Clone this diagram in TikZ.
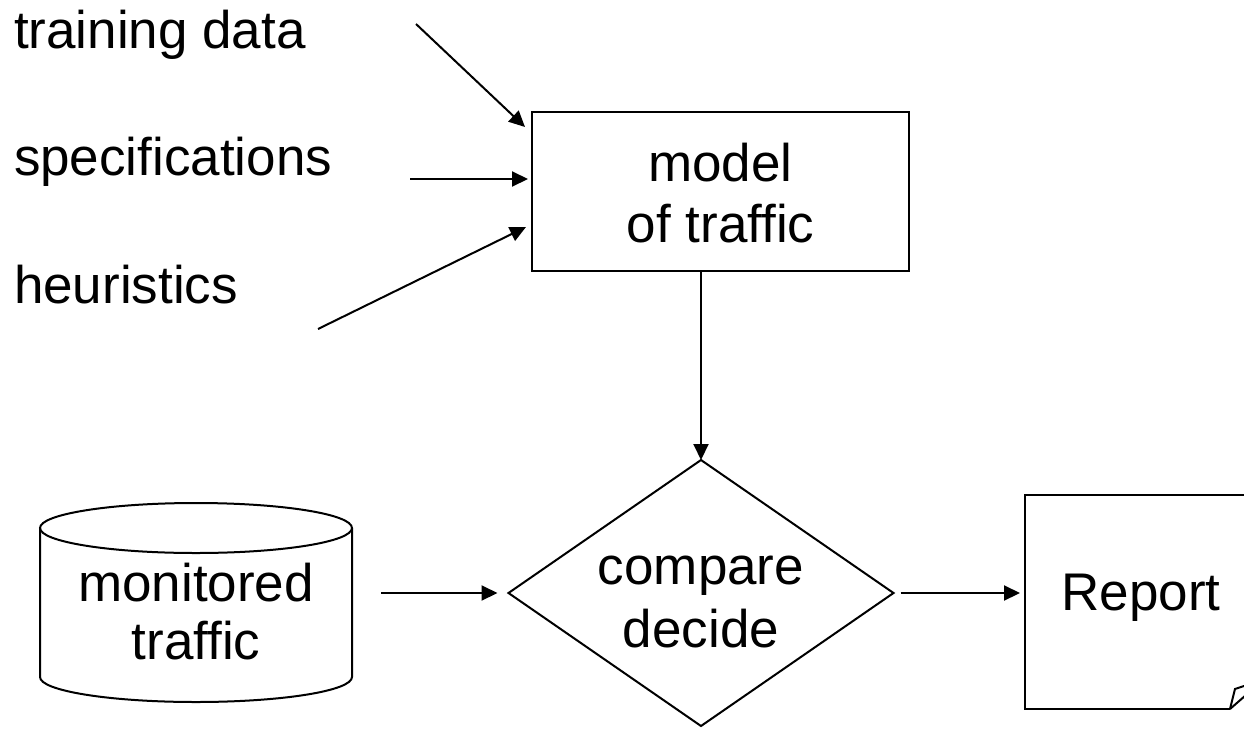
\documentclass[tikz,border=0pt]{standalone}
\usepackage{fontspec}
\setmainfont{Liberation Sans}
\usetikzlibrary{shapes.geometric,arrows.meta,calc}

\begin{document}
\begin{tikzpicture}[x=1pt,y=-1pt,
  line width=2pt,
  every node/.style={inner sep=0pt, outer sep=0pt},
  lbl/.style={anchor=base west, font=\fontsize{53}{60}\selectfont},
  arr/.style={-{Triangle[length=16pt,width=15pt]}},
  modelbox/.style={draw, rectangle, minimum width=377pt, minimum height=159pt,
    align=center, font=\fontsize{53}{61}\selectfont},
  decision/.style={draw, diamond, aspect=1.45, minimum width=385pt,
    minimum height=266pt, align=center, font=\fontsize{53}{63}\selectfont},
  store/.style={rectangle, minimum width=312pt, minimum height=199pt,
    align=center, font=\fontsize{53}{58}\selectfont},
  document/.style={rectangle, minimum width=232pt, minimum height=214pt,
    align=center, font=\fontsize{53}{60}\selectfont},
]
\useasboundingbox (0,0) rectangle (1244,728);

% input labels
\node[lbl] (td) at (14,48)  {training data};
\node[lbl] (sp) at (14,175) {specifications};
\node[lbl] (he) at (14,303) {heuristics};

% main shapes
\node[modelbox] (model) at (720.5,191.5) {\rule{0pt}{42pt}model\\of traffic};
\node[decision] (cmp) at (701,593) {\rule{0pt}{47pt}compare\\decide};
\node[store] (mon) at (196,602.5) {\rule{0pt}{57pt}monitored\\traffic};
\node[document] (rep) at (1141,602) {\rule[-22pt]{0pt}{60pt}Report};

% cylinder outline of the traffic store
\draw (40,528) -- (40,677) arc[start angle=180, end angle=0, x radius=156, y radius=25] -- (352,528);
\draw (196,528) ellipse[x radius=156, y radius=25];

% report sheet with curled corner
\draw (rep.north east) -- (rep.north west) -- (rep.south west)
      -- ([xshift=-27pt]rep.south east) coordinate (curl);
\draw (curl) -- ++(5pt,20pt) -- ++(9pt,3pt);
\draw (curl) -- ++(16pt,14pt);
\draw (rep.north east) -- ([yshift=25pt]rep.south east);

% free ends of the input arrows
\coordinate (tdS) at (416,24);
\coordinate (spS) at (410,179);
\coordinate (heS) at (318,329);
\coordinate (monS) at (381,593);

% connectors
\draw[arr] (tdS) -- ([shift={(-7pt,-15pt)}]model.north west);
\draw[arr] (spS) -- ([shift={(-4pt,12.5pt)}]model.west);
\draw[arr] (heS) -- ([shift={(-6pt,-35.5pt)}]model.west);
\draw[arr] (cmp.north |- model.south) -- (cmp.north);
\draw[arr] (monS) -- ([xshift=-11pt]cmp.west);
\draw[arr] ([xshift=7pt]cmp.east) -- ($(rep.west |- cmp.east)+(-5pt,0pt)$);
\end{tikzpicture}
\end{document}
